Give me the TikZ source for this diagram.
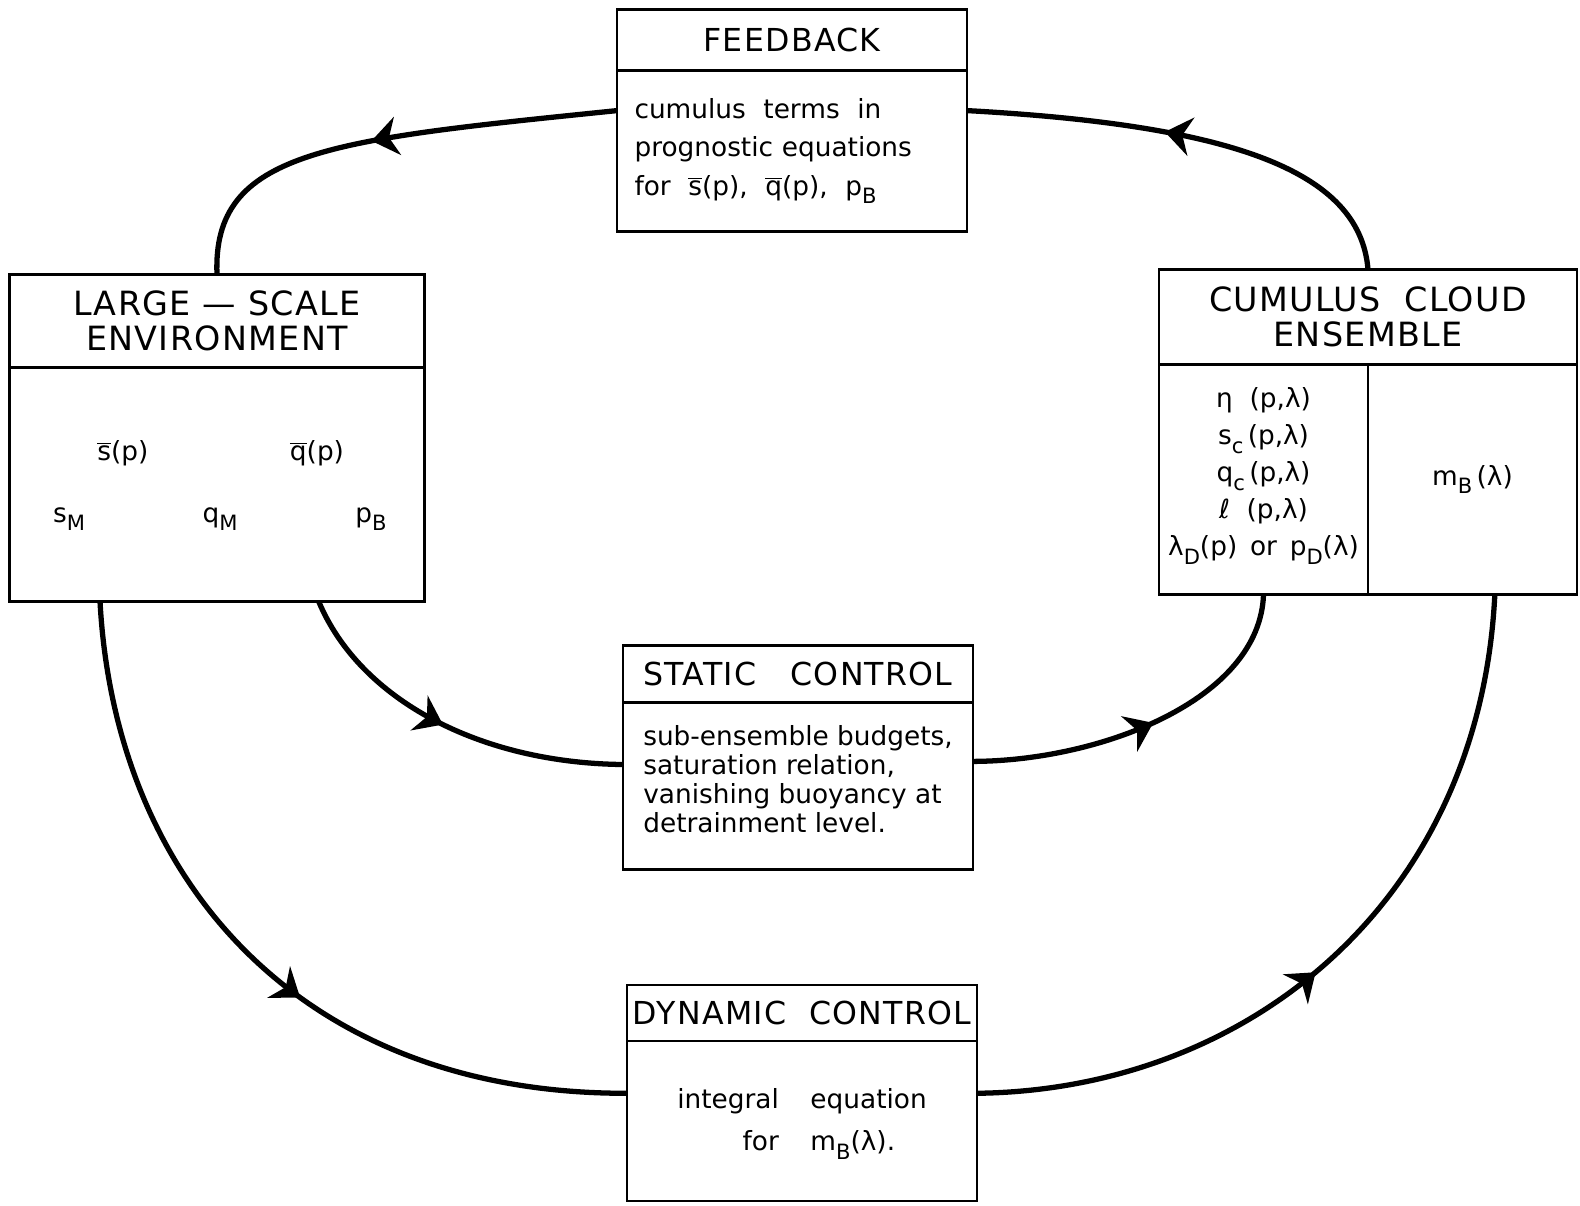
\documentclass[tikz,border=0pt]{standalone}
\usepackage{fontspec}
\setmainfont{DejaVu Sans}
\newfontfamily\capsfont[LetterSpace=4]{DejaVu Sans}
\usetikzlibrary{positioning, arrows.meta, decorations.markings}
\newcommand\ovl[1]{$\overline{\mbox{#1}}$}% barred variable
\newcommand\lo[1]{\raisebox{-0.6ex}{\scalebox{0.8}{#1}}}% lowered index

\begin{document}
\begin{tikzpicture}[x=0.02cm, y=-0.02cm,
node distance = 0mm and 0mm,% boxes sit on each other
   box/.style = {draw, line width=1.6pt, inner sep=0pt, outer sep=0pt},
 title/.style = {box, font=\capsfont\fontsize{18}{20}\selectfont, align=center},
  body/.style = {box, font=\fontsize{15}{22}\selectfont},
  flow/.style = {line width=3pt, postaction={decorate},
                 decoration={markings, mark=at position #1 with {\arrow{Stealth[length=15pt,width=22pt]}}}}
                        ]
\useasboundingbox (0,0) rectangle (1580,1205);
% feedback
\node (fbT) [title, minimum width=7cm, minimum height=1.22cm] at (792,40) {FEEDBACK};
\node (fbB) [body, below=of fbT, minimum width=7cm, minimum height=3.22cm,
             text width=6.3cm, align=left]
      {cumulus \ terms \ in\\ prognostic equations\\ for \ \ovl{s}(p), \ \ovl{q}(p), \ p\lo{B}};
% large-scale environment
\node (lsT) [title, minimum width=8.3cm, minimum height=1.86cm,
             font=\capsfont\fontsize{19}{20}\selectfont] at (217,321)
      {LARGE — SCALE\\ENVIRONMENT};
\node (lsB) [body, below=of lsT, minimum width=8.3cm, minimum height=4.68cm] {};
\node (sbar) [font=\fontsize{15}{18}\selectfont] at (123,453) {\ovl{s}(p)};
\node (qbar) [font=\fontsize{15}{18}\selectfont] at (317,453) {\ovl{q}(p)};
\node (sM) [font=\fontsize{15}{18}\selectfont] at (69,519) {s\lo{M}};
\node (qM) [font=\fontsize{15}{18}\selectfont] at (220,519) {q\lo{M}};
\node (pB) [font=\fontsize{15}{18}\selectfont] at (371,519) {p\lo{B}};
% cumulus cloud ensemble
\node (cumT) [title, minimum width=8.36cm, minimum height=1.9cm,
              font=\capsfont\fontsize{19}{20}\selectfont] at (1368,317)
      {CUMULUS \ CLOUD\\ENSEMBLE};
\node (cumL) [body, below right=of cumT.south west, minimum width=4.18cm, minimum height=4.6cm,
              align=center, font=\fontsize{15}{21}\selectfont]
      {η \ (p,λ)\\ s\lo{c}\,(p,λ)\\ q\lo{c}\,(p,λ)\\ ℓ \ (p,λ)\\ λ\lo{D}(p) \,or\, p\lo{D}(λ)\\[-12pt]};
\node (cumR) [body, right=of cumL, minimum width=4.18cm, minimum height=4.6cm] {m\lo{B}\,(λ)};
% static control
\node (stT) [title, minimum width=7cm, minimum height=1.14cm] at (798,674) {STATIC \ \ CONTROL};
\node (stB) [body, below=of stT, minimum width=7cm, minimum height=3.34cm, align=left,
             font=\fontsize{15}{16.5}\selectfont]
      {sub-ensemble budgets,\\ saturation relation,\\ vanishing buoyancy at\\ detrainment level.\\[-8.5pt]};
% dynamic control
\node (dkT) [title, minimum width=7cm, minimum height=1.12cm] at (802,1013) {DYNAMIC \ CONTROL};
\node (dkB) [body, below=of dkT, minimum width=7cm, minimum height=3.2cm,
             font=\fontsize{15}{24}\selectfont]
      {\begin{tabular}{r@{\hspace{1.2em}}l}% two columns as in the sketch
        integral & equation\\
        for      & m\lo{B}(λ).
       \end{tabular}};
% loops
\draw [flow=0.52] (fbB.167) .. controls (330,140) and (212,150) .. (lsT.north);
\draw [flow=0.57] (cumT.north) .. controls (1360,170) and (1230,125) .. (fbB.13);
\draw [flow=0.49] (lsB.311) .. controls (360,700) and (480,763) .. (stB.173);
\draw [flow=0.51] (stB.8) .. controls (1100,761) and (1260,700) .. (cumL.south);
\draw [flow=0.57] (lsB.225) .. controls (115,880) and (300,1094) .. (dkB.171);
\draw [flow=0.46] (dkB.9) .. controls (1250,1090) and (1480,900) .. (cumR.281);
\end{tikzpicture}
\end{document}
